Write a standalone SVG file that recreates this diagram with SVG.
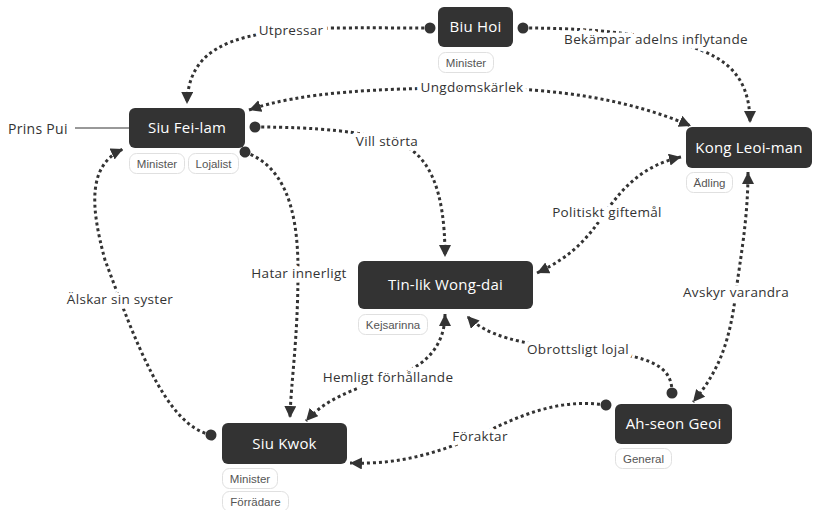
<svg xmlns="http://www.w3.org/2000/svg" width="813" height="510" viewBox="0 0 813 510">
<style>
.node rect.box{fill:#333;}
.node text.name{fill:#fff;font-family:"Open Sans","Liberation Sans",sans-serif;font-size:15px;letter-spacing:0.2px;text-anchor:middle;}
.tag rect{fill:#fff;stroke:#e0e0e0;stroke-width:1;}
.tag text{fill:#555;font-family:"Liberation Sans",Arial,sans-serif;font-size:11.5px;text-anchor:middle;}
.edge{fill:none;stroke:#333;stroke-width:3;stroke-dasharray:3 3;}
.lbl{fill:#333;font-family:"Open Sans","Liberation Sans",sans-serif;font-size:13.5px;letter-spacing:0.3px;text-anchor:middle;paint-order:stroke;stroke:#fff;stroke-width:9;stroke-linejoin:round;}
.a{marker-end:url(#arr);}
.d{marker-start:url(#arrs);marker-end:url(#arr);}
.c{marker-start:url(#dot);}
</style>
<defs>
<marker id="arr" markerUnits="userSpaceOnUse" markerWidth="13" markerHeight="13" refX="12" refY="6" orient="auto"><path d="M0,0 L12,6 L0,12 z" fill="#333"/></marker>
<marker id="arrs" markerUnits="userSpaceOnUse" markerWidth="13" markerHeight="13" refX="12" refY="6" orient="auto-start-reverse"><path d="M0,0 L12,6 L0,12 z" fill="#333"/></marker>
<marker id="dot" markerUnits="userSpaceOnUse" markerWidth="14" markerHeight="14" refX="7" refY="7" orient="auto"><circle cx="7" cy="7" r="5.5" fill="#333"/></marker>
</defs>
<rect width="813" height="510" fill="#fff"/>
<g id="connectors">
<line x1="75" y1="128" x2="129" y2="128" stroke="#333" stroke-width="1"/>
<path class="edge c a" d="M430,28 C380,28 320,27 290,30 C230,36 188,50 187,104"/>
<path class="edge c a" d="M523,28 C580,28 620,32 656,38 C720,50 750,70 750,123"/>
<path class="edge d" d="M249,110 C300,92 380,88 472,88 C560,88 630,100 691,126"/>
<path class="edge c a" d="M255,127 C320,127 360,132 390,140 C430,150 445,190 445,257"/>
<path class="edge d" d="M537,273 C575,255 590,235 607,210 C625,185 645,165 681,157"/>
<path class="edge d" d="M748,172 C748,220 740,260 736,292 C730,340 720,370 693,402"/>
<path class="edge c a" d="M672,393 C672,370 660,355 578,349 C520,345 485,335 467,316"/>
<path class="edge d" d="M445,314 C445,350 420,370 388,378 C350,390 325,400 306,421"/>
<path class="edge c a" d="M245,152 C280,165 298,200 298,270 C298,340 291,380 290,418"/>
<path class="edge c a" d="M211,435 C165,425 135,340 105,260 C90,205 88,165 123,149"/>
<path class="edge c a" d="M606,405 C560,398 520,415 480,435 C440,452 400,465 350,463"/>
<text class="lbl" x="291" y="35">Utpressar</text>
<text class="lbl" x="656" y="44">Bekämpar adelns inflytande</text>
<text class="lbl" x="472" y="92">Ungdomskärlek</text>
<text class="lbl" x="387" y="146">Vill störta</text>
<text class="lbl" x="607" y="217">Politiskt giftemål</text>
<text class="lbl" x="736" y="297">Avskyr varandra</text>
<text class="lbl" x="299" y="278">Hatar innerligt</text>
<text class="lbl" x="120" y="304">Älskar sin syster</text>
<text class="lbl" x="578" y="354">Obrottsligt lojal</text>
<text class="lbl" x="388" y="382">Hemligt förhållande</text>
<text class="lbl" x="480" y="441">Föraktar</text>
</g>
<g id="prins-pui"><text x="8" y="134" fill="#333" font-family="'Open Sans','Liberation Sans',sans-serif" font-size="14" letter-spacing="0.3">Prins Pui</text></g>
<g id="biu-hoi" class="node">
<rect class="box" x="438" y="7" width="75" height="40" rx="6"/>
<text class="name" x="475.5" y="32">Biu Hoi</text>
<g class="tag"><rect x="438.5" y="52.5" width="55" height="20" rx="7"/><text x="466" y="67">Minister</text></g>
</g>
<g id="siu-fei-lam" class="node">
<rect class="box" x="129" y="108" width="116" height="40" rx="6"/>
<text class="name" x="187" y="133">Siu Fei-lam</text>
<g class="tag"><rect x="129.5" y="153.5" width="55" height="20" rx="7"/><text x="157" y="168">Minister</text></g>
<g class="tag"><rect x="188.5" y="153.5" width="50" height="20" rx="7"/><text x="213.5" y="168">Lojalist</text></g>
</g>
<g id="kong-leoi-man" class="node">
<rect class="box" x="686" y="127" width="126" height="41" rx="6"/>
<text class="name" x="749" y="153">Kong Leoi-man</text>
<g class="tag"><rect x="686.5" y="172.5" width="46" height="20" rx="7"/><text x="709.5" y="187">Ädling</text></g>
</g>
<g id="tin-lik-wong-dai" class="node">
<rect class="box" x="358" y="261" width="175" height="48" rx="6"/>
<text class="name" x="445.5" y="290">Tin-lik Wong-dai</text>
<g class="tag"><rect x="358.5" y="314.5" width="69" height="20" rx="7"/><text x="393" y="329">Kejsarinna</text></g>
</g>
<g id="siu-kwok" class="node">
<rect class="box" x="222" y="423" width="125" height="41" rx="6"/>
<text class="name" x="284.5" y="449">Siu Kwok</text>
<g class="tag"><rect x="222.5" y="468.5" width="55" height="20" rx="7"/><text x="250" y="483">Minister</text></g>
<g class="tag"><rect x="222.5" y="491.5" width="66" height="20" rx="7"/><text x="255.5" y="506">Förrädare</text></g>
</g>
<g id="ah-seon-geoi" class="node">
<rect class="box" x="615" y="404" width="117" height="40" rx="6"/>
<text class="name" x="673.5" y="429">Ah-seon Geoi</text>
<g class="tag"><rect x="615.5" y="448.5" width="56" height="20" rx="7"/><text x="643.5" y="463">General</text></g>
</g>
</svg>
